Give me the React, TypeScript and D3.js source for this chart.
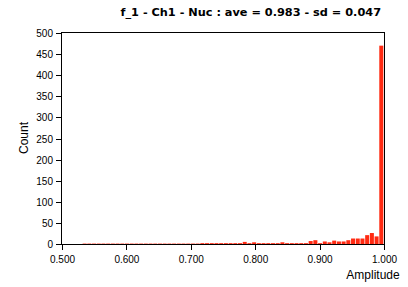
import React from "react";
import * as d3 from "d3";

const title = "f_1 - Ch1 - Nuc : ave = 0.983 - sd = 0.047";
const xLabel = "Amplitude";
const yLabel = "Count";
const binStart = 0.532;
const binEnd = 1.0;
const counts = [
  1, 1, 1, 1, 1, 1, 1, 1, 1, 1,
  1, 1, 1, 1, 1, 1, 1, 1, 1, 1,
  1, 1, 1, 1, 1, 2, 2, 2, 2, 2,
  2, 2, 2, 2, 5, 2, 4, 2, 2, 2,
  2, 2, 4, 2, 2, 2, 2, 2, 7, 9,
  2, 6, 4, 8, 6, 6, 9, 13, 13, 13,
  21, 26, 18, 470,
];
const xTicks = [0.5, 0.6, 0.7, 0.8, 0.9, 1.0];
const yTicks = [0, 50, 100, 150, 200, 250, 300, 350, 400, 450, 500];

export default function App() {
  const W = 408, H = 287;
  const x = d3.scaleLinear().domain([0.5, 1.0]).range([62, 384]);
  const y = d3.scaleLinear().domain([0, 500]).range([244, 33]);
  const bw = (binEnd - binStart) / counts.length;
  const font = "'Liberation Sans', Arial, sans-serif";
  const titleFont = "'DejaVu Sans', sans-serif";
  const red = "#ff2a12";
  return (
    <svg width={W} height={H} style={{ position: "absolute", left: 0, top: 0, background: "#fff" }}>
      <rect x={0} y={0} width={W} height={H} fill="#fff" />
      {counts.map((c, i) => {
        const x0 = x(binStart + i * bw);
        const x1 = x(binStart + (i + 1) * bw);
        return (
          <rect key={i} x={x0} y={y(c)} width={Math.max(0.5, x1 - x0 - 0.7)} height={y(0) - y(c)} fill={red} />
        );
      })}
      <rect x={61.5} y={32.5} width={323} height={212} fill="none" stroke="#000" strokeWidth={1} />
      {yTicks.map((t) => (
        <g key={t}>
          <line x1={56} x2={61.5} y1={Math.round(y(t)) + 0.5} y2={Math.round(y(t)) + 0.5} stroke="#000" />
          <text x={53} y={Math.round(y(t)) + 0.5} dy="0.35em" textAnchor="end" fontFamily={font} fontSize={10} fill="#000">{t}</text>
        </g>
      ))}
      {xTicks.map((t) => (
        <g key={t}>
          <line x1={Math.round(x(t)) + 0.5} x2={Math.round(x(t)) + 0.5} y1={244.5} y2={250} stroke="#000" />
          <text x={x(t) + 0.5} y={262.5} textAnchor="middle" fontFamily={font} fontSize={10} fill="#000">{t.toFixed(3)}</text>
        </g>
      ))}
      <text x={381} y={16} textAnchor="end" fontFamily={titleFont} fontSize={11.3} fontWeight="bold" fill="#000">{title}</text>
      <text transform="translate(28,138) rotate(-90)" textAnchor="middle" fontFamily={font} fontSize={12} fill="#000">{yLabel}</text>
      <text x={373} y={279} textAnchor="middle" fontFamily={font} fontSize={12} fill="#000">{xLabel}</text>
    </svg>
  );
}
